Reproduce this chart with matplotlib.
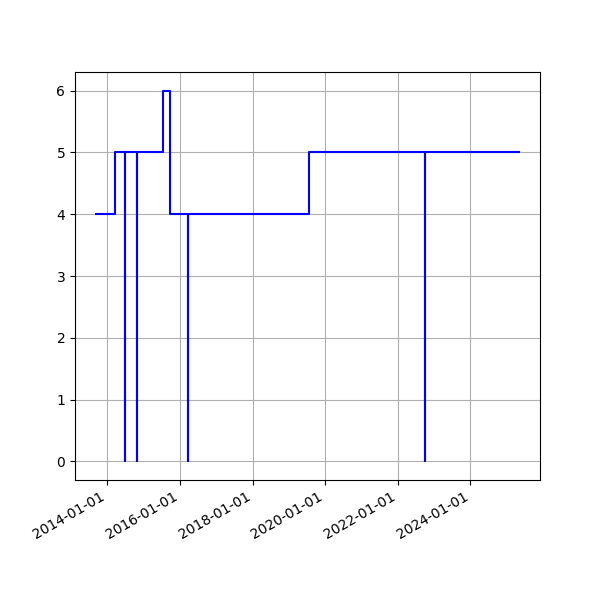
import matplotlib
matplotlib.use("Agg")
import matplotlib.pyplot as plt
import matplotlib.dates as mdates
import pandas as pd

dates = ["2013-09-10", "2014-03-22", "2014-06-25", "2014-06-25", "2014-10-23",
         "2014-10-23", "2015-07-18", "2015-09-22", "2016-03-26", "2016-03-26",
         "2019-07-25", "2022-10-03", "2022-10-03", "2025-05-02"]
values = [4, 5, 0, 5, 0, 5, 6, 4, 0, 4, 5, 0, 5, 5]

x = pd.to_datetime(dates)

fig, ax = plt.subplots(figsize=(6, 6), dpi=100)
ax.step(x, values, where="post", color="b", linewidth=1.5)
ax.grid(True)
ax.xaxis.set_major_locator(mdates.YearLocator(2))
ax.xaxis.set_major_formatter(mdates.DateFormatter("%Y-%m-%d"))
fig.autofmt_xdate()
fig.subplots_adjust(left=0.125, right=0.9, top=0.88, bottom=0.2)
fig.savefig("out.png", dpi=100)
